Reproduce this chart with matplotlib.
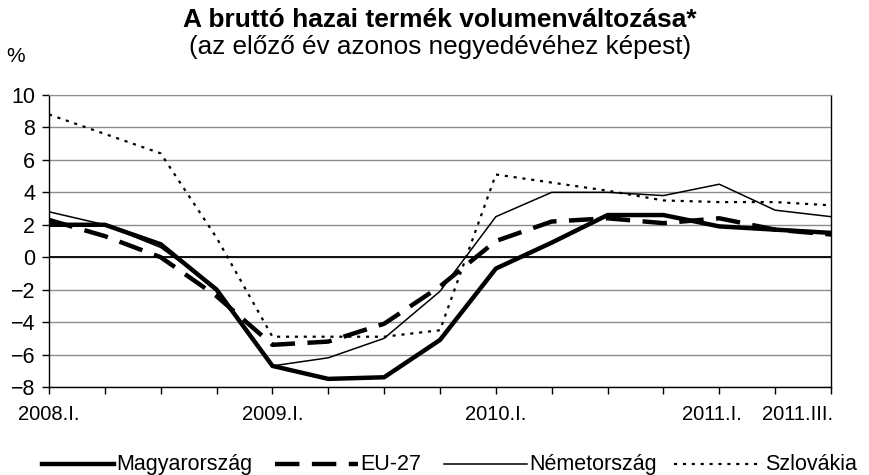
import matplotlib
matplotlib.use("Agg")
import matplotlib.pyplot as plt
from matplotlib.lines import Line2D
from matplotlib.transforms import ScaledTranslation

plt.rcParams['font.family'] = ['Liberation Sans', 'DejaVu Sans']

quarters = ["2008.I.", "2008.II.", "2008.III.", "2008.IV.",
            "2009.I.", "2009.II.", "2009.III.", "2009.IV.",
            "2010.I.", "2010.II.", "2010.III.", "2010.IV.",
            "2011.I.", "2011.II.", "2011.III."]
shown_labels = ["2008.I.", "", "", "", "2009.I.", "", "", "", "2010.I.", "", "", "",
                "2011.I.", "", "2011.III."]

magyarorszag = [2.0, 2.0, 0.8, -2.0, -6.7, -7.5, -7.4, -5.1, -0.7, 0.9, 2.6, 2.6, 1.9, 1.7, 1.5]
eu27 = [2.3, 1.3, 0.0, -2.4, -5.4, -5.2, -4.1, -1.8, 1.0, 2.2, 2.4, 2.1, 2.4, 1.7, 1.4]
nemetorszag = [2.8, 2.0, 0.6, -1.9, -6.7, -6.2, -5.0, -2.1, 2.5, 4.0, 4.0, 3.8, 4.5, 2.9, 2.5]
szlovakia = [8.8, 7.6, 6.4, 1.2, -4.9, -4.9, -4.9, -4.5, 5.1, 4.6, 4.1, 3.5, 3.4, 3.4, 3.2]

series_names = ["Magyarország", "EU-27", "Németország", "Szlovákia"]

W, H = 870, 475
fig = plt.figure(figsize=(W/100, H/100), dpi=100)
ax = fig.add_axes([49/W, 1-387/H, (831-49)/W, (387-95)/H])

x = list(range(len(quarters)))

styles = {
    "Magyarország": dict(color='black', linewidth=3.2, linestyle='-', zorder=5),
    "EU-27": dict(color='black', linewidth=3.2, linestyle=(0, (5.5, 2.8)),
                  dash_capstyle='butt', zorder=4),
    "Németország": dict(color='black', linewidth=1.1, linestyle='-', zorder=3),
    "Szlovákia": dict(color='black', linewidth=1.6, linestyle=(0, (1.4, 2.6)),
                      dash_capstyle='butt', zorder=3),
}

ax.set_ylim(-8, 10)
ax.set_xlim(0, len(quarters)-1)
ax.set_yticks(range(-8, 11, 2))
ax.yaxis.grid(True, color='#8c8c8c', linewidth=1.0)
ax.set_axisbelow(True)
ax.axhline(0, color='black', linewidth=1.3, zorder=1.5)

data = {"Magyarország": magyarorszag, "EU-27": eu27,
        "Németország": nemetorszag, "Szlovákia": szlovakia}
for name in ["Szlovákia", "Németország", "EU-27", "Magyarország"]:
    ax.plot(x, data[name], label=name, **styles[name])

ax.set_xticks(x)
ax.set_xticklabels(shown_labels)
ax.tick_params(axis='x', direction='out', length=5, width=1, pad=8, labelsize=14.5)
ax.tick_params(axis='y', direction='out', length=5, width=1, pad=5, labelsize=15.5)
labs = ax.get_xticklabels()
labs[-1].set_horizontalalignment('right')
labs[-1].set_transform(labs[-1].get_transform() + ScaledTranslation(2/100, 0, fig.dpi_scale_trans))
labs[12].set_transform(labs[12].get_transform() + ScaledTranslation(-7/100, 0, fig.dpi_scale_trans))

for s in ['left', 'bottom', 'right']:
    ax.spines[s].set_color('black')
    ax.spines[s].set_linewidth(1.0)
ax.spines['top'].set_color('#8c8c8c')

fig.text(440/W, 1-20/H, "A bruttó hazai termék volumenváltozása*",
         ha='center', va='center', fontsize=19, fontweight='bold')
fig.text(440/W, 1-47/H, "(az előző év azonos negyedévéhez képest)",
         ha='center', va='center', fontsize=18.8)
fig.text(16/W, 1-57/H, "%", ha='center', va='center', fontsize=15)

# legend drawn manually in figure pixel positions
leg_line_y = 1-464/H
leg_text_y = 1-470/H
leg_items = [("Magyarország", 42, 114), ("EU-27", 275, 358),
             ("Németország", 444, 527), ("Szlovákia", 674, 763)]
for name, x0, x1 in leg_items:
    st = dict(styles[name])
    st.pop('zorder', None)
    fig.add_artist(Line2D([x0/W, x1/W], [leg_line_y, leg_line_y], transform=fig.transFigure, **st))
    fig.text((x1+2)/W, leg_text_y, name, ha='left', va='baseline', fontsize=15.5)

fig.savefig("out.png", dpi=100)
